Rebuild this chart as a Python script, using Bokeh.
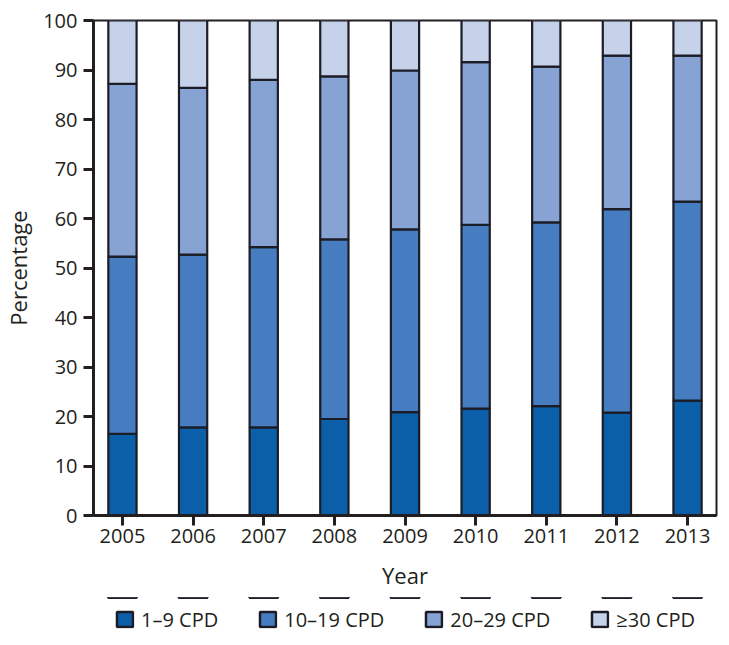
from bokeh.plotting import figure
from bokeh.layouts import column
from bokeh.models import Range1d, FixedTicker, Legend, LegendItem, ColumnDataSource
from bokeh.embed import file_html
from bokeh.resources import INLINE

years = [2005, 2006, 2007, 2008, 2009, 2010, 2011, 2012, 2013]
cpd_1_9 = [16.5, 17.8, 17.8, 19.5, 20.9, 21.6, 22.1, 20.8, 23.2]
cpd_10_19 = [35.8, 34.9, 36.4, 36.3, 36.9, 37.1, 37.1, 41.1, 40.2]
cpd_20_29 = [34.9, 33.7, 33.8, 32.9, 32.1, 32.9, 31.5, 31.0, 29.5]
cpd_30_plus = [12.8, 13.6, 12.0, 11.3, 10.1, 8.4, 9.3, 7.1, 7.1]
series_names = ["1\u20139 CPD", "10\u201319 CPD", "20\u201329 CPD", "\u226530 CPD"]
colors = ["#0b5fa8", "#467dc0", "#87a3d4", "#c6d2ea"]
y_ticks = [0, 10, 20, 30, 40, 50, 60, 70, 80, 90, 100]

FONT = "Open Sans"
INK = "#231f20"
EDGE = "#1c1c26"

src = ColumnDataSource(dict(year=years, a=cpd_1_9, b=cpd_10_19, c=cpd_20_29, d=cpd_30_plus))

p = figure(width=721, height=597, output_backend="svg", toolbar_location=None,
           x_range=Range1d(2004.59, 2013.41), y_range=Range1d(0, 100),
           min_border_left=93, min_border_right=5, min_border_top=20, min_border_bottom=82)

p.vbar_stack(["a", "b", "c", "d"], x="year", width=0.4, source=src,
             fill_color=colors, line_color=EDGE, line_width=2.2)

p.xgrid.visible = False
p.ygrid.visible = False
p.outline_line_color = INK
p.outline_line_width = 2
p.background_fill_color = "white"
p.border_fill_color = "white"

for ax in (p.xaxis[0], p.yaxis[0]):
    ax.axis_line_color = INK
    ax.axis_line_width = 3
    ax.major_tick_line_color = INK
    ax.major_tick_line_width = 3
    ax.major_tick_out = 10
    ax.major_tick_in = 0
    ax.minor_tick_line_color = None
    ax.major_label_text_font = FONT
    ax.major_label_text_font_size = "20px"
    ax.major_label_text_color = INK
    ax.axis_label_text_font = FONT
    ax.axis_label_text_font_size = "22px"
    ax.axis_label_text_font_style = "normal"
    ax.axis_label_text_color = INK

p.xaxis[0].ticker = FixedTicker(ticks=years)
p.xaxis[0].axis_label = "Year"
p.xaxis[0].major_label_standoff = 3
p.xaxis[0].axis_label_standoff = 14
p.yaxis[0].ticker = FixedTicker(ticks=y_ticks)
p.yaxis[0].axis_label = "Percentage"
p.yaxis[0].major_label_standoff = 6
p.yaxis[0].axis_label_standoff = 7

# legend strip below the chart (its renderers lie far outside the strip's visible range)
lg = figure(width=721, height=44, output_backend="svg", toolbar_location=None,
            x_range=Range1d(2004.59, 2013.41), y_range=Range1d(-1000, -990),
            x_axis_location=None, y_axis_location=None,
            min_border_left=93, min_border_right=5, min_border_top=0, min_border_bottom=0)
lg.outline_line_color = None
lg.xgrid.visible = False
lg.ygrid.visible = False
lg.background_fill_color = "white"
items = []
for name, col, key in zip(series_names, colors, ["a", "b", "c", "d"]):
    r = lg.vbar(x="year", top=key, width=0.4, source=src,
                fill_color=col, line_color=EDGE, line_width=2.5)
    items.append(LegendItem(label=name, renderers=[r]))
legend = Legend(items=items, orientation="horizontal", location="center",
                glyph_width=20, glyph_height=19, label_standoff=7, spacing=39,
                label_text_font=FONT, label_text_font_size="20px", label_text_color=INK,
                border_line_color=None, background_fill_alpha=0,
                padding=0, margin=0)
lg.add_layout(legend)

layout = column(p, lg, spacing=0)
open("out.html", "w").write(file_html(layout, INLINE))
